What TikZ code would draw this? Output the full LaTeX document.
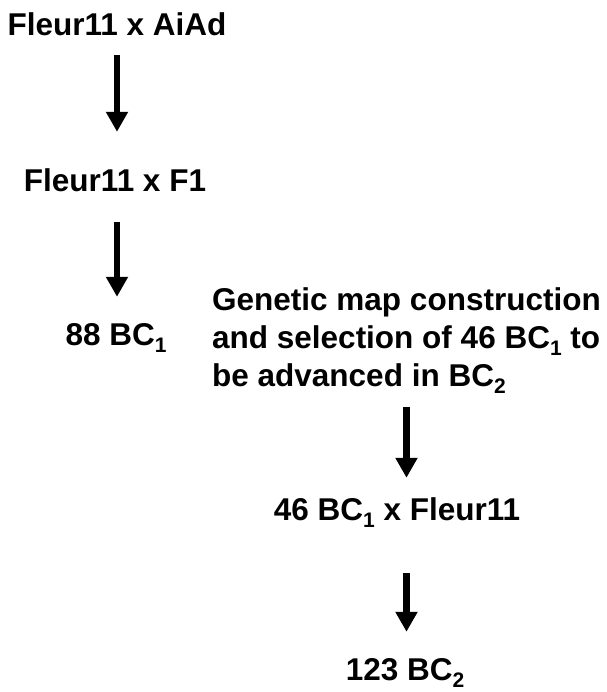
\documentclass[tikz,border=0pt]{standalone}
\usepackage{fontspec}
\setmainfont{Liberation Sans}
\usepackage{tikz}
\usetikzlibrary{arrows.meta}
\newcommand{\lowsub}[1]{\raisebox{-7.5pt}{\fontsize{21}{21}\selectfont #1}}
\tikzset{step label/.style={inner sep=0pt, font=\fontsize{31.5}{38}\selectfont\bfseries, text height=22pt, text depth=0pt},
    cross arrow/.style={line width=6.5pt, -{Triangle[width=21pt,length=20pt]}}}

\begin{document}
\begin{tikzpicture}[x=1pt,y=-1pt]
                 \useasboundingbox (0,0) rectangle (606,692);
                 \node[step label, anchor=base] (parents) at (117,36) {Fleur11 x AiAd};
                 \node[step label, anchor=base] (fone) at (115,192) {Fleur11 x F1};
                 \node[step label, anchor=base] (bcone) at (116,345) {88 BC\lowsub{1}};
                 \node[inner sep=0pt, font=\fontsize{31.5}{38}\selectfont\bfseries, align=left, anchor=north west] (mapping) at (212,287)
                      {Genetic map construction\\and selection of 46 BC\lowsub{1} to\\be advanced in BC\lowsub{2}};
                 \node[step label, anchor=base] (backcross) at (397,520) {46 BC\lowsub{1} x Fleur11};
                 \node[step label, anchor=base] (bctwo) at (405,680) {123 BC\lowsub{2}};

                 \draw[cross arrow, shorten <=19pt, shorten >=38pt] (parents.south) -- (parents.south |- fone.north);
                 \draw[cross arrow, shorten <=30pt, shorten >=26pt] (fone.south -| parents.south) -- (parents.south |- bcone.north);
                 \draw[cross arrow, shorten <=13pt, shorten >=20pt] (mapping.south) -- (mapping.south |- backcross.north);
                 \draw[cross arrow, shorten <=53pt, shorten >=26pt] (mapping.south |- backcross.south) -- (mapping.south |- bctwo.north);
\end{tikzpicture}
\end{document}
